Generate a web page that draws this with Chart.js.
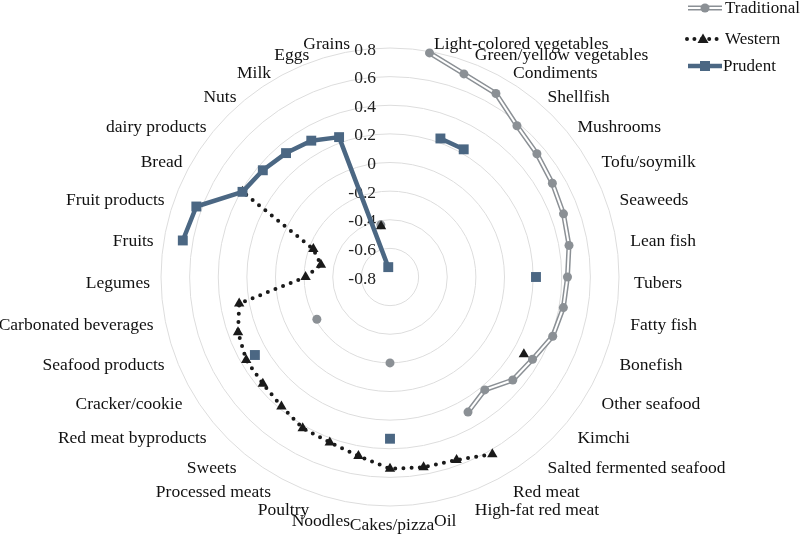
<!DOCTYPE html>
<html>
<head>
<meta charset="utf-8">
<script src="https://cdn.jsdelivr.net/npm/chart.js@4.4.0/dist/chart.umd.min.js"></script>
<style>
  html, body { margin: 0; padding: 0; background: #fff; }
  #wrap { width: 800px; height: 541px; }
</style>
</head>
<body>
<div id="wrap"><canvas id="radar" width="800" height="541"></canvas></div>
<script>
// food groups clockwise from the top; the top spoke carries no label
const foodGroups = [
  '', 'Light-colored vegetables', 'Green/yellow vegetables', 'Condiments', 'Shellfish',
  'Mushrooms', 'Tofu/soymilk', 'Seaweeds', 'Lean fish', 'Tubers', 'Fatty fish',
  'Bonefish', 'Other seafood', 'Kimchi', 'Salted fermented seafood', 'Red meat',
  'High-fat red meat', 'Oil', 'Cakes/pizza', 'Noodles', 'Poultry', 'Processed meats',
  'Sweets', 'Red meat byproducts', 'Cracker/cookie', 'Seafood products',
  'Carbonated beverages', 'Legumes', 'Fruits', 'Fruit products', 'Bread',
  'dairy products', 'Nuts', 'Milk', 'Eggs', 'Grains'
];

// factor loadings (null = not shown)
const traditional = [
  null, 0.79, 0.71, 0.68, 0.58, 0.54, 0.51, 0.49, 0.47, 0.44, 0.43, 0.41,
  0.35, 0.32, 0.23, 0.29, null, null, -0.20, null, null, null, null, null,
  -0.21, null, null, null, null, null, null, null, null, null, null, -0.43
];
const western = [
  null, null, null, null, null, null, null, null, null, null, null, null,
  0.28, null, null, 0.63, 0.56, 0.55, 0.54, 0.47, 0.43, 0.42, 0.38, 0.36,
  0.36, 0.33, 0.27, -0.21, -0.31, -0.23, 0.39, null, null, null, null, -0.44
];
const prudent = [
  null, null, 0.23, 0.23, null, null, null, null, null, 0.22, null, null,
  null, null, null, null, null, null, 0.33, null, null, null, null, null,
  0.29, null, null, null, 0.67, 0.64, 0.39, 0.36, 0.33, 0.30, 0.24, -0.73
];

const seriesNames = ['Traditional', 'Western', 'Prudent'];
const rMin = -0.8, rMax = 0.8, rStep = 0.2;

const GREY = '#8b9095', BLACK = '#1a1a1a', BLUE = '#4b6783';
const SERIF = '"Liberation Serif", "Times New Roman", serif';
const FONT = '17.5px ' + SERIF;

const fmtTick = v => String(Math.round(v * 10) / 10);

// tick numbers sit left of the vertical axis, right-aligned
const tickLabels = {
  id: 'tickLabels',
  beforeDatasetsDraw(chart) {
    const s = chart.scales.r, ctx = chart.ctx;
    ctx.save();
    ctx.font = FONT;
    ctx.fillStyle = '#222';
    ctx.textAlign = 'right';
    ctx.textBaseline = 'middle';
    s.ticks.forEach(t => {
      const d = s.getDistanceFromCenterForValue(t.value);
      ctx.fillText(fmtTick(t.value), s.xCenter - 14, s.yCenter - d + 2);
    });
    ctx.restore();
  }
};

// category names around the outside, vertically centred on their spoke
const spokeLabels = {
  id: 'spokeLabels',
  afterDatasetsDraw(chart) {
    const s = chart.scales.r, ctx = chart.ctx;
    const n = chart.data.labels.length;
    ctx.save();
    ctx.font = FONT;
    ctx.fillStyle = '#111';
    ctx.textBaseline = 'middle';
    chart.data.labels.forEach((lab, i) => {
      if (!lab) return;
      const deg = i * 360 / n;
      const p = s.getPointPosition(i, s.drawingArea + 13);
      ctx.textAlign = (deg === 0 || deg === 180) ? 'center' : (deg < 180 ? 'left' : 'right');
      ctx.fillText(lab, p.x + 2, p.y + 6);
    });
    ctx.restore();
  }
};

// legend top-right: line sample with marker, then name
const sideLegend = {
  id: 'sideLegend',
  afterDraw(chart) {
    const ctx = chart.ctx;
    const x1 = 688, x2 = 722, xm = 705, xt = 725;
    const rows = [8, 39, 66];
    ctx.save();
    ctx.lineCap = 'butt';

    // Traditional: double grey line + circle
    let y = rows[0];
    ctx.strokeStyle = GREY; ctx.lineWidth = 5;
    ctx.beginPath(); ctx.moveTo(x1, y); ctx.lineTo(x2, y); ctx.stroke();
    ctx.strokeStyle = '#fff'; ctx.lineWidth = 2;
    ctx.beginPath(); ctx.moveTo(x1, y); ctx.lineTo(x2, y); ctx.stroke();
    ctx.fillStyle = GREY;
    ctx.beginPath(); ctx.arc(xm, y, 4.5, 0, Math.PI * 2); ctx.fill();

    // Western: dotted black + triangle
    y = rows[1];
    ctx.strokeStyle = BLACK; ctx.lineWidth = 4; ctx.lineCap = 'round';
    ctx.setLineDash([0, 7.4]);
    ctx.beginPath(); ctx.moveTo(687, y); ctx.lineTo(717, y); ctx.stroke();
    ctx.setLineDash([]);
    ctx.fillStyle = BLACK;
    ctx.beginPath();
    ctx.moveTo(xm - 2, y - 5.5); ctx.lineTo(xm + 3.5, y + 4); ctx.lineTo(xm - 7.5, y + 4);
    ctx.closePath(); ctx.fill();
    ctx.lineCap = 'butt';

    // Prudent: thick blue line + square
    y = rows[2];
    ctx.strokeStyle = BLUE; ctx.lineWidth = 4.5;
    ctx.beginPath(); ctx.moveTo(x1, y); ctx.lineTo(x2, y); ctx.stroke();
    ctx.fillStyle = BLUE;
    ctx.fillRect(xm - 5, y - 5, 10, 10);

    ctx.font = '17px ' + SERIF;
    ctx.fillStyle = '#111';
    ctx.textAlign = 'left';
    ctx.textBaseline = 'middle';
    seriesNames.forEach((name, i) => ctx.fillText(name, xt - (i === 2 ? 2 : 0), rows[i] + 1));
    ctx.restore();
  }
};

new Chart(document.getElementById('radar').getContext('2d'), {
  type: 'radar',
  data: {
    labels: foodGroups,
    datasets: [
      // Prudent drawn last (lowest order = on top)
      { label: seriesNames[2], data: prudent, order: 0,
        borderColor: BLUE, borderWidth: 4.5, borderJoinStyle: 'round', fill: false,
        pointStyle: 'rect', pointRadius: 7, pointBackgroundColor: BLUE, pointBorderWidth: 0 },
      { label: seriesNames[1], data: western, order: 1,
        borderColor: BLACK, borderWidth: 4, borderDash: [0, 8.2], borderCapStyle: 'round', fill: false,
        pointStyle: 'triangle', pointRadius: 6, pointBackgroundColor: BLACK, pointBorderWidth: 0 },
      // Traditional: markers, white core, grey outer line
      { label: seriesNames[0], data: traditional, order: 2, showLine: false, fill: false,
        backgroundColor: 'rgba(0,0,0,0)',
        pointStyle: 'circle', pointRadius: 4.5, pointBackgroundColor: GREY, pointBorderWidth: 0 },
      { label: 'trad-core', data: traditional, order: 3,
        borderColor: '#fff', borderWidth: 2, fill: false, pointRadius: 0 },
      { label: 'trad-outer', data: traditional, order: 4,
        borderColor: GREY, borderWidth: 5, fill: false, pointRadius: 0 }
    ]
  },
  options: {
    responsive: false,
    animation: false,
    layout: { padding: { left: 161, right: 181, top: 48, bottom: 35 } },
    plugins: { legend: { display: false }, tooltip: { enabled: false } },
    elements: { line: { tension: 0 } },
    scales: {
      r: {
        min: rMin, max: rMax,
        ticks: { stepSize: rStep, display: false },
        grid: { circular: true, color: '#dddddd', lineWidth: 1 },
        angleLines: { display: false },
        pointLabels: { display: false }
      }
    }
  },
  plugins: [tickLabels, spokeLabels, sideLegend]
});
</script>
</body>
</html>
